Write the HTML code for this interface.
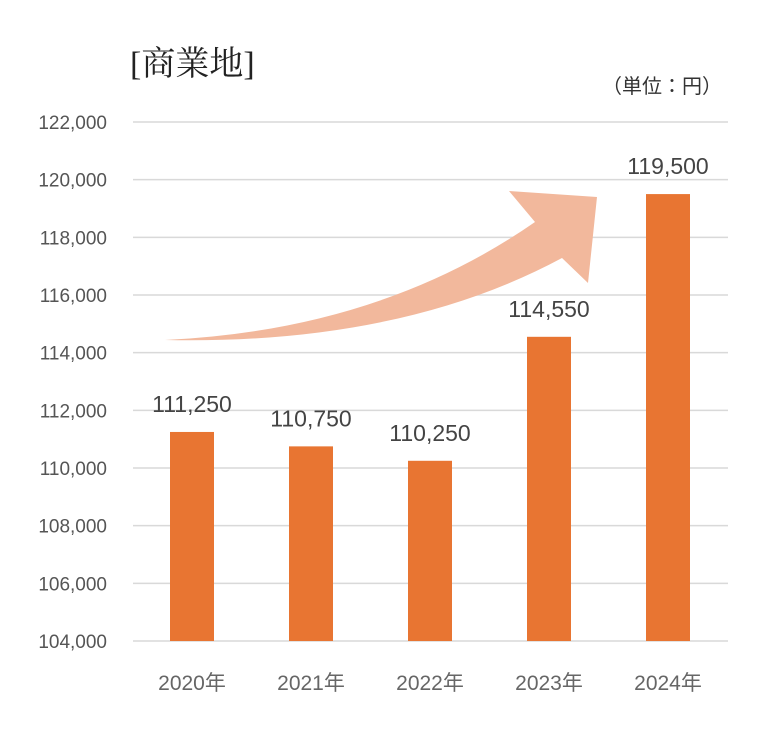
<!DOCTYPE html>
<html><head><meta charset="utf-8"><style>
body{margin:0;background:#fff;}
svg{display:block;font-family:"Liberation Sans","Noto Sans CJK JP",sans-serif;}
</style></head><body>
<svg width="764" height="744" viewBox="0 0 764 744">
<text x="130" y="75" font-family="'Liberation Serif','Noto Serif CJK SC',serif" font-size="34" fill="#222">[商業地]</text>
<text x="722" y="93" text-anchor="end" font-size="20" fill="#333" font-family="'Liberation Sans','Noto Sans CJK JP',sans-serif">（単位：円）</text>
<g id="grid"></g><g id="ylabels"></g>
<path d="M165,340 Q380,330 535,222 L509,191 L597,197 L588,283 L562,258 Q400,345 165,340 Z" fill="#f2b89c"/>
<g id="bars"></g><g id="xlabels"></g><g id="vlabels"></g>
</svg>
<script>
const categories=["2020年","2021年","2022年","2023年","2024年"];
const values=[111250,110750,110250,114550,119500];
const valueLabels=["111,250","110,750","110,250","114,550","119,500"];
const yTicks=[104000,106000,108000,110000,112000,114000,116000,118000,120000,122000];
const yMin=104000,yMax=122000,yTop=122,yBot=641;
function y(v){return yBot-(v-yMin)/(yMax-yMin)*(yBot-yTop);}
function x(i){return 192+i*119;}
const NS="http://www.w3.org/2000/svg";
function mk(t,a,p){const e=document.createElementNS(NS,t);for(const k in a)e.setAttribute(k,a[k]);document.getElementById(p).appendChild(e);return e;}
yTicks.forEach(v=>{
 const l=mk("line",{x1:133,x2:728,y1:y(v),y2:y(v),stroke:"#d9d9d9","stroke-width":1.5},"grid");
 
 
 const t=mk("text",{x:107,y:y(v)+7,"text-anchor":"end","font-size":19,fill:"#555"},"ylabels");
 t.textContent=v.toLocaleString("en-US");
 
 
});
values.forEach((v,i)=>{
 const r=mk("rect",{x:x(i)-22,y:y(v),width:44,height:yBot-y(v),fill:"#e87532"},"bars");
 
 
 const t=mk("text",{x:x(i),y:y(v)-20,"text-anchor":"middle","font-size":23,fill:"#444"},"vlabels");
 t.textContent=valueLabels[i];
 
 
 const c=mk("text",{x:x(i),y:690,"text-anchor":"middle","font-size":21,fill:"#666"},"xlabels");
 c.textContent=categories[i];
 
 
});
</script>
</body></html>
